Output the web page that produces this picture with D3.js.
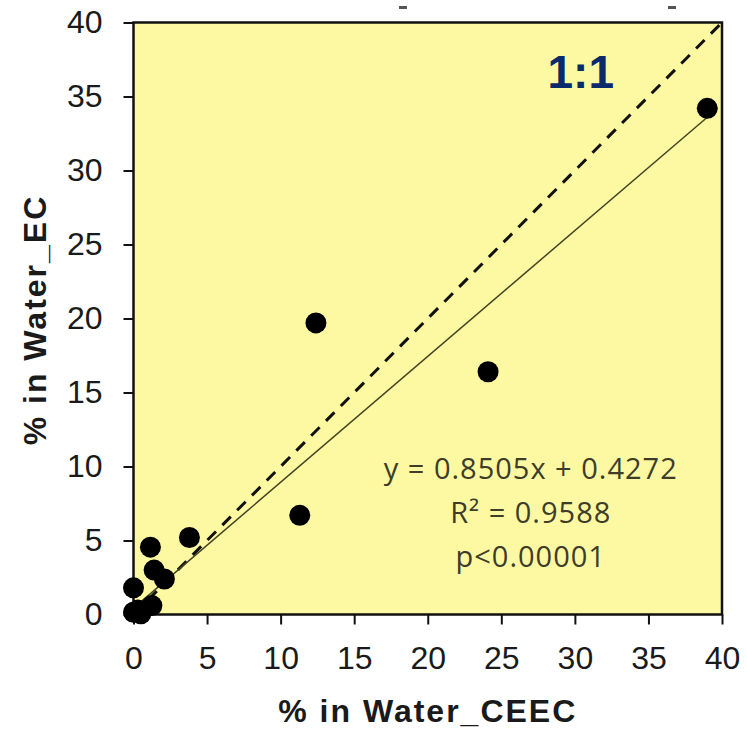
<!DOCTYPE html>
<html>
<head>
<meta charset="utf-8">
<script src="https://cdn.jsdelivr.net/npm/d3@7"></script>
<style>
  body { margin: 0; background: #fff; }
  svg text { font-family: "Liberation Sans", Arial, sans-serif; }
</style>
</head>
<body>
<div id="chart"></div>
<script>
// % in Water_CEEC vs % in Water_EC
var ceec = [39.0, 12.4, 24.1, 11.3, 3.8, 1.15, 1.4, 2.1, 0.0, 0.0, 0.5, 1.25, 0.3];
var ec   = [34.2, 19.7, 16.4, 6.7, 5.2, 4.55, 3.0, 2.4, 1.8, 0.15, 0.05, 0.6, 0.3];
var xTicks = [0, 5, 10, 15, 20, 25, 30, 35, 40];
var yTicks = [0, 5, 10, 15, 20, 25, 30, 35, 40];
var slope = 0.8505, intercept = 0.4272;
var statLines = ["y = 0.8505x + 0.4272", "R² = 0.9588", "p<0.00001"];

var svg = d3.select("#chart").append("svg")
    .attr("width", 747)
    .attr("height", 732);

var margin = {top: 22.5, right: 25, bottom: 117.5, left: 133.5};
var width = 747 - margin.left - margin.right;
var height = 732 - margin.top - margin.bottom;

var x = d3.scaleLinear().domain([0, 40]).range([0, width]);
var y = d3.scaleLinear().domain([0, 40]).range([height, 0]);

var g = svg.append("g")
    .attr("transform", "translate(" + margin.left + "," + margin.top + ")");

// plot background
g.append("rect")
    .attr("width", width)
    .attr("height", height)
    .attr("fill", "#fdf8a2");

// axes
var xAxis = g.append("g")
    .attr("transform", "translate(0," + height + ")")
    .call(d3.axisBottom(x).tickValues(xTicks).tickSize(10).tickPadding(22));
var yAxis = g.append("g")
    .call(d3.axisLeft(y).tickValues(yTicks).tickSize(10).tickPadding(21));

[xAxis, yAxis].forEach(function(a) {
  a.select(".domain").remove();
  a.selectAll("line").attr("stroke", "#111").attr("stroke-width", 2);
  a.selectAll("text").attr("font-size", 32).attr("fill", "#1a1a1a")
    .attr("font-family", "'Liberation Sans', Arial, sans-serif");
});

// frame
g.append("rect")
    .attr("width", width)
    .attr("height", height)
    .attr("fill", "none")
    .attr("stroke", "#111")
    .attr("stroke-width", 2.5);

// 1:1 line
g.append("line")
    .attr("x1", x(0)).attr("y1", y(0))
    .attr("x2", x(40)).attr("y2", y(40))
    .attr("stroke", "#111")
    .attr("stroke-width", 3)
    .attr("stroke-dasharray", "12,9");

// regression line over the data range
var xr = d3.extent(ceec);
g.append("line")
    .attr("x1", x(xr[0])).attr("y1", y(slope * xr[0] + intercept))
    .attr("x2", x(xr[1])).attr("y2", y(slope * xr[1] + intercept))
    .attr("stroke", "#444422")
    .attr("stroke-width", 1.5);

// points
g.selectAll("circle.pt")
    .data(d3.zip(ceec, ec))
    .enter().append("circle")
    .attr("class", "pt")
    .attr("cx", function(d) { return x(d[0]); })
    .attr("cy", function(d) { return y(d[1]); })
    .attr("r", 10.5)
    .attr("fill", "#000");

// 1:1 label
g.append("text")
    .attr("x", x(30.4))
    .attr("y", y(35.55))
    .attr("text-anchor", "middle")
    .attr("font-size", 46)
    .attr("font-weight", "bold")
    .attr("fill", "#0b2a6b")
    .text("1:1");

// regression stats
g.selectAll("text.stat")
    .data(statLines)
    .enter().append("text")
    .attr("class", "stat")
    .attr("x", x(27))
    .attr("y", function(d, i) { return 456 + i * 44; })
    .attr("text-anchor", "middle")
    .attr("font-size", 29)
    .attr("letter-spacing", 1)
    .attr("fill", "#3d3d2a")
    .style("font-family", "'Open Sans', 'Noto Sans', sans-serif")
    .text(function(d) { return d; });

// axis titles
svg.append("text")
    .attr("x", margin.left + x(20))
    .attr("y", 722)
    .attr("text-anchor", "middle")
    .attr("font-size", 32)
    .attr("font-weight", "bold")
    .attr("letter-spacing", 2)
    .attr("fill", "#1a1a1a")
    .text("% in Water_CEEC");

svg.append("text")
    .attr("transform", "translate(46,320)rotate(-90)")
    .attr("text-anchor", "middle")
    .attr("font-size", 32)
    .attr("font-weight", "bold")
    .attr("letter-spacing", 2)
    .attr("fill", "#1a1a1a")
    .text("% in Water_EC");

// clipped marks above the frame
svg.selectAll("rect.stub")
    .data([403, 672])
    .enter().append("rect")
    .attr("class", "stub")
    .attr("x", function(d) { return d - 4; })
    .attr("y", 6)
    .attr("width", 8)
    .attr("height", 3)
    .attr("fill", "#555");
</script>
</body>
</html>
